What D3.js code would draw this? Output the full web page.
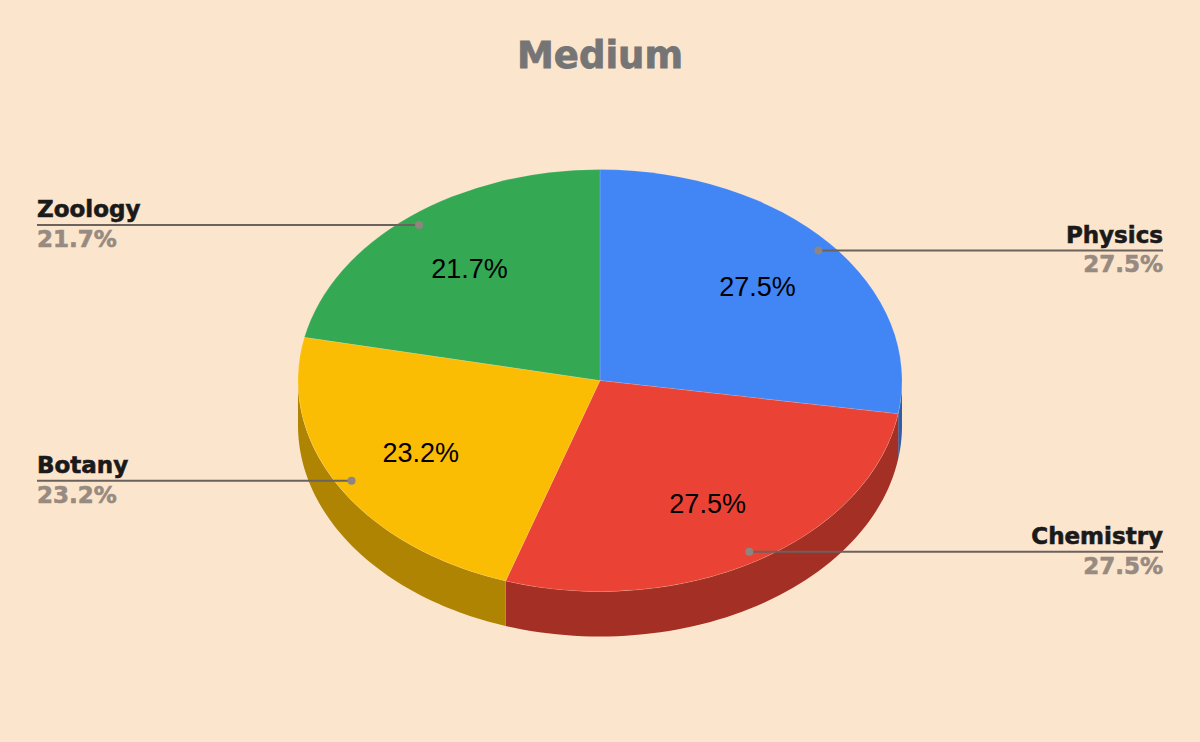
<!DOCTYPE html>
<html><head><meta charset="utf-8">
<script src="https://cdn.jsdelivr.net/npm/d3@7"></script>
<style>html,body{margin:0;padding:0;background:#fce5cd;}</style>
</head><body>
<svg id="c" width="1200" height="742"></svg>
<script>
const title = "Medium";
const categories = ["Physics", "Chemistry", "Botany", "Zoology"];
const values = [27.5, 27.5, 23.2, 21.7];
const colors = ["#4285f4", "#ea4335", "#fbbc04", "#34a853"];

const W = 1200, H = 742;
const cx = 600, cy = 380.5, rx = 302, ry = 211, depth = 45;
const svg = d3.select("#c");
svg.append("rect").attr("width", W).attr("height", H).attr("fill", "#fce5cd");

svg.append("text").attr("x", 600).attr("y", 68).attr("text-anchor", "middle")
  .attr("font-family", "DejaVu Sans").attr("font-weight", "bold").attr("font-size", 37)
  .attr("fill", "#757575").attr("stroke", "#757575").attr("stroke-width", 0.8).text(title);

const data = categories.map((c, i) => ({name: c, value: values[i], color: colors[i]}));
const total = d3.sum(values);
const pie = d3.pie().value(d => d.value).sort(null).startAngle(0).endAngle(2 * Math.PI);
const arcs = pie(data);

const px = a => cx + rx * Math.sin(a);
const py = a => cy - ry * Math.cos(a);

// walls (visible front half: PI/2 .. 3PI/2)
const wallG = svg.append("g");
arcs.forEach(a => {
  const s = Math.max(a.startAngle, Math.PI / 2), e = Math.min(a.endAngle, 3 * Math.PI / 2);
  if (e <= s) return;
  const n = 60;
  const top = d3.range(n + 1).map(k => s + (e - s) * k / n);
  const pts = top.map(t => [px(t), py(t)]).concat(top.slice().reverse().map(t => [px(t), py(t) + depth]));
  const c = d3.color(a.data.color);
  const dark = d3.rgb(c.r * 0.7, c.g * 0.7, c.b * 0.7);
  wallG.append("path").attr("d", d3.line()(pts) + "Z").attr("fill", dark);
});

// top faces
const arcGen = d3.arc().innerRadius(0).outerRadius(rx);
const topG = svg.append("g").attr("transform", `translate(${cx},${cy}) scale(1,${ry / rx})`);
topG.selectAll("path").data(arcs).join("path")
  .attr("d", arcGen).attr("fill", d => d.data.color)
  .attr("stroke", "#ffffff").attr("stroke-opacity", 0.2).attr("stroke-width", 0.8);

// inner labels
const fmt = v => (v / total * 100).toFixed(1) + "%";
arcs.forEach(a => {
  const m = (a.startAngle + a.endAngle) / 2;
  const x = cx + rx * 0.685 * Math.sin(m), y = cy - ry * 0.685 * Math.cos(m);
  svg.append("text").attr("x", x).attr("y", y + 9.5).attr("text-anchor", "middle")
    .attr("font-family", "Liberation Sans, Arial").attr("font-size", 27)
    .attr("fill", "#000").text(fmt(a.data.value));
});

// leader lines and outer labels
arcs.forEach(a => {
  const m = (a.startAngle + a.endAngle) / 2;
  const x = cx + rx * 0.95 * Math.sin(m), y = cy - ry * 0.95 * Math.cos(m);
  const right = Math.sin(m) > 0;
  const xe = right ? 1163 : 37;
  svg.append("line").attr("x1", x).attr("y1", y).attr("x2", xe).attr("y2", y)
    .attr("stroke", "#6b625d").attr("stroke-width", 2);
  svg.append("circle").attr("cx", x).attr("cy", y).attr("r", 4).attr("fill", "#8f8580");
  svg.append("text").attr("x", xe).attr("y", y - 7.5).attr("text-anchor", right ? "end" : "start")
    .attr("font-family", "DejaVu Sans").attr("font-weight", "bold").attr("font-size", 23)
    .attr("fill", "#1a1a1a").attr("stroke", "#1a1a1a").attr("stroke-width", 0.6).text(a.data.name);
  svg.append("text").attr("x", xe).attr("y", y + 22).attr("text-anchor", right ? "end" : "start")
    .attr("font-family", "DejaVu Sans").attr("font-weight", "bold").attr("font-size", 23)
    .attr("fill", "#978b81").attr("stroke", "#978b81").attr("stroke-width", 0.6).text(fmt(a.data.value));
});
</script>
</body></html>
